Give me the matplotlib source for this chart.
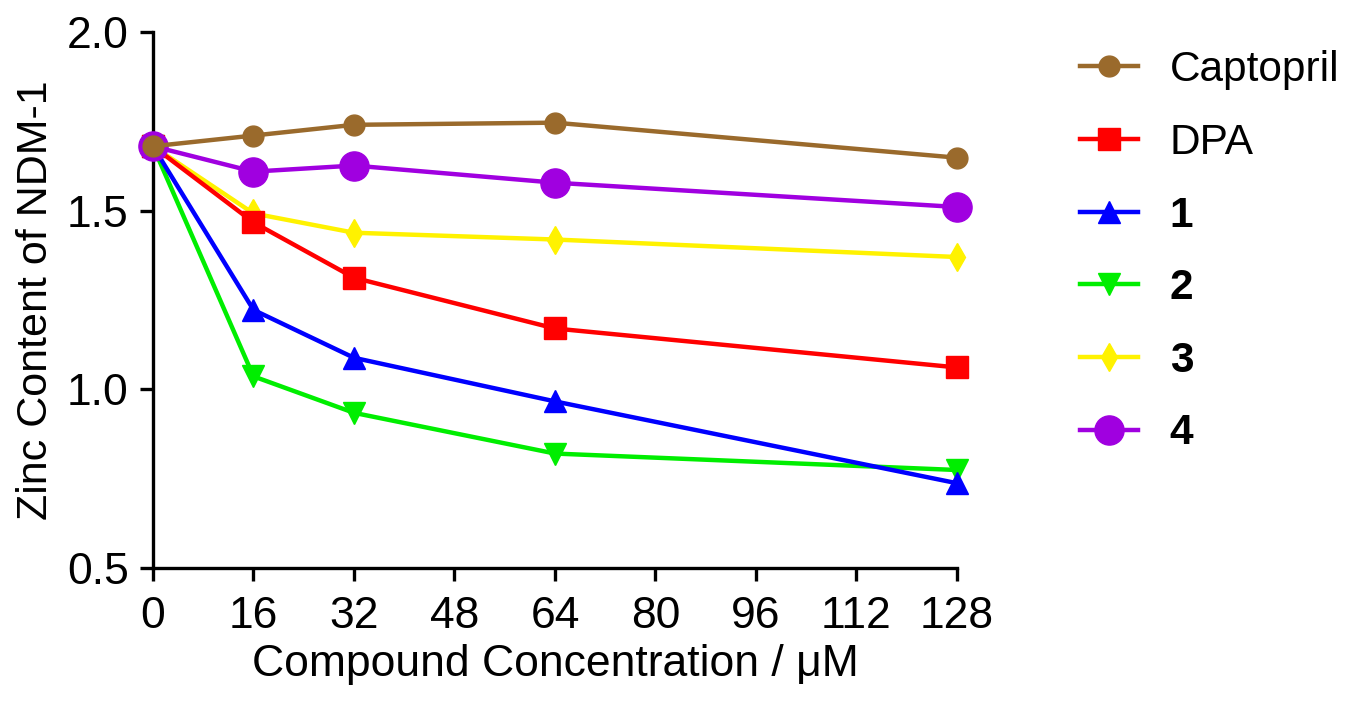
import numpy as np
import matplotlib
matplotlib.use("Agg")
import matplotlib.pyplot as plt

plt.rcParams["font.family"] = ["Liberation Sans", "DejaVu Sans"]

conc = [0, 16, 32, 64, 128]
captopril = [1.68, 1.71, 1.74, 1.746, 1.648]
dpa = [1.68, 1.467, 1.312, 1.170, 1.061]
cmpd1 = [1.68, 1.222, 1.088, 0.966, 0.737]
cmpd2 = [1.68, 1.036, 0.934, 0.820, 0.774]
cmpd3 = [1.68, 1.492, 1.438, 1.419, 1.370]
cmpd4 = [1.68, 1.609, 1.626, 1.578, 1.510]

series = [
    ("Captopril", captopril, "#9A6A2C", "o", 15, 7),
    ("DPA", dpa, "#FF0000", "s", 16, 5),
    ("1", cmpd1, "#0000FF", "^", 16, 4),
    ("2", cmpd2, "#00EE00", "v", 16, 3),
    ("3", cmpd3, "#FFF200", "d", 14, 4.5),
    ("4", cmpd4, "#A000E0", "o", 21, 6),
]

fig = plt.figure(figsize=(13.49, 7.09), dpi=100)
ax = fig.add_axes([0.1134, 0.199, 0.5960, 0.756])

for name, vals, col, mk, ms, z in series:
    ax.plot(conc, vals, color=col, marker=mk, markersize=ms, lw=3.2,
            label=name, zorder=z, clip_on=False)

ax.set_xlim(0, 128)
ax.set_ylim(0.5, 2.0)
ax.set_xticks([0, 16, 32, 48, 64, 80, 96, 112, 128])
ax.set_yticks([0.5, 1.0, 1.5, 2.0])
ax.set_yticklabels(["0.5", "1.0", "1.5", "2.0"])
for s in ["top", "right"]:
    ax.spines[s].set_visible(False)
for s in ["left", "bottom"]:
    ax.spines[s].set_linewidth(2.4)
ax.tick_params(axis="both", which="major", labelsize=32, width=2.4, length=9.5,
               direction="out", color="black")
ax.tick_params(axis="x", pad=11)
ax.tick_params(axis="y", pad=8)
ax.set_xlabel("Compound Concentration / μM", fontsize=32, labelpad=5)
ax.set_ylabel("Zinc Content of NDM-1", fontsize=31, labelpad=8)

leg = ax.legend(loc="upper left", bbox_to_anchor=(0.788, 0.953),
                bbox_transform=fig.transFigure, frameon=False, fontsize=30.5,
                handlelength=1.37, handletextpad=0.75, labelspacing=0.77,
                borderaxespad=0)
for t in leg.get_texts():
    if t.get_text() in ["1", "2", "3", "4"]:
        t.set_fontweight("bold")

fig.savefig("out.png", dpi=100)
